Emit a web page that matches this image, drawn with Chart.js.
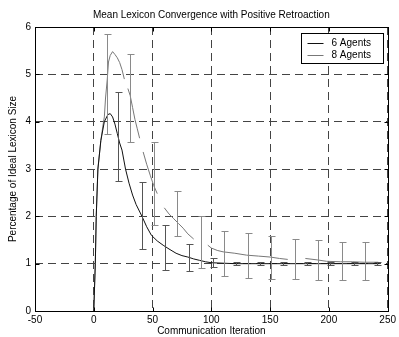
<!DOCTYPE html>
<html>
<head>
<meta charset="utf-8">
<title>Mean Lexicon Convergence</title>
<script src="https://cdn.jsdelivr.net/npm/chart.js@4.4.0/dist/chart.umd.min.js"></script>
<style>
  body { margin: 0; background: #fff; }
</style>
</head>
<body>
<canvas id="chart" width="399" height="337"></canvas>
<script>
// valori
var seriesNames = ['6 Agents', '8 Agents'];

// 6 agenti (linea nera)
var x6 = [0, 1.3, 2.1, 3.5, 6, 9, 12, 14, 16, 18, 20, 22, 24, 27, 30, 33, 36, 41, 45, 49, 54, 59, 64, 70, 75, 80, 85, 90, 95, 100, 110, 120, 140, 160, 180, 200, 220, 243];
var y6 = [0, 1.0, 2.0, 3.0, 3.6, 4.0, 4.15, 4.17, 4.1, 3.95, 3.75, 3.55, 3.4, 3.0, 2.7, 2.45, 2.25, 2.0, 1.78, 1.6, 1.48, 1.39, 1.31, 1.22, 1.17, 1.14, 1.1, 1.07, 1.04, 1.02, 1.01, 1.0, 1.0, 1.0, 1.0, 1.0, 1.0, 1.0];

// 8 agenti (linea grigia, spezzata)
var x8 = [0, 1.3, 2.1, 3.5, 6, 8, 9, 10, 11.5, 12.5, 14, 16, 18, 20, 22, 24, 26, 27.5, 29, 31, 33, 35, 37, 39, 40.5, 42, 45, 48, 51, 54, 57, 60, 64, 68, 72, 76, 80, 85, 91, 97, 100, 105, 110, 120, 130, 140, 150, 158, 165, 172, 180, 190, 198, 210, 220, 230, 242];
var y8 = [0, 1.0, 2.0, 3.0, 3.6, 3.95, 4.1, 4.5, 4.9, 5.26, 5.4, 5.48, 5.42, 5.35, 5.25, 5.1, 4.9, null, 4.7, 4.55, 4.3, 4.05, 3.85, 3.65, null, 3.36, 3.1, 2.87, 2.65, 2.48, null, 2.18, 2.05, 1.95, 1.85, 1.75, 1.63, 1.52, null, 1.39, 1.33, 1.28, 1.25, 1.22, 1.18, 1.16, 1.14, 1.11, 1.09, null, 1.11, 1.08, 1.05, 1.04, 1.04, 1.03, 1.03];

// barre d'errore
var errX6 = [21, 41, 61, 81, 101, 121, 141, 161, 181, 201, 221, 241];
var errLo6 = [2.74, 1.32, 0.86, 0.85, 0.92, 0.97, 0.97, 0.97, 0.97, 0.97, 0.97, 0.97];
var errHi6 = [4.63, 2.73, 1.81, 1.41, 1.11, 1.03, 1.03, 1.03, 1.03, 1.03, 1.03, 1.03];

var errX8 = [11, 31, 51, 71, 91, 111, 131, 151, 171, 191, 211, 231];
var errLo8 = [3.75, 3.57, 1.81, 1.58, 0.9, 0.75, 0.70, 0.67, 0.67, 0.66, 0.66, 0.66];
var errHi8 = [5.86, 5.44, 3.57, 2.54, 2.0, 1.69, 1.64, 1.58, 1.53, 1.50, 1.45, 1.45];

var xTicks = [-50, 0, 50, 100, 150, 200, 250];
var yTicks = [0, 1, 2, 3, 4, 5, 6];

function toPoints(xs, ys) {
  var pts = [];
  for (var i = 0; i < xs.length; i++) {
    pts.push({x: xs[i], y: ys[i]});
  }
  return pts;
}

Chart.defaults.font.family = "'Liberation Sans', Arial, sans-serif";
Chart.defaults.font.size = 10;
Chart.defaults.color = '#000';

// barre d'errore disegnate con le scale del grafico
var errorBars = {
  id: 'errorBars',
  afterDatasetsDraw: function(chart) {
    var ctx = chart.ctx;
    var xs = chart.scales.x, ys = chart.scales.y;
    ctx.save();
    chart.data.datasets.forEach(function(ds) {
      ctx.strokeStyle = ds.errColor;
      ctx.lineWidth = 1;
      for (var i = 0; i < ds.errX.length; i++) {
        var px = Math.round(xs.getPixelForValue(ds.errX[i])) + 0.5;
        var lo = Math.round(ys.getPixelForValue(ds.errLo[i])) + 0.5;
        var hi = Math.round(ys.getPixelForValue(ds.errHi[i])) + 0.5;
        ctx.beginPath();
        ctx.moveTo(px, lo); ctx.lineTo(px, hi);
        ctx.moveTo(px - 3, lo); ctx.lineTo(px + 4, lo);
        ctx.moveTo(px - 3, hi); ctx.lineTo(px + 4, hi);
        ctx.stroke();
      }
    });
    ctx.restore();
  }
};

// riquadro, tacche interne e legenda
var frame = {
  id: 'frame',
  afterDraw: function(chart) {
    var ctx = chart.ctx;
    var a = chart.chartArea;
    var xs = chart.scales.x, ys = chart.scales.y;
    var L = Math.round(a.left) + 0.5, R = Math.round(a.right) + 0.5;
    var T = Math.round(a.top) + 0.5, B = Math.round(a.bottom) + 0.5;
    ctx.save();
    ctx.strokeStyle = '#000';
    ctx.lineWidth = 1;
    ctx.strokeRect(L, T, R - L, B - T);
    ctx.beginPath();
    xTicks.forEach(function(v) {
      var p = Math.round(xs.getPixelForValue(v)) + 0.5;
      ctx.moveTo(p, B); ctx.lineTo(p, B - 4);
      ctx.moveTo(p, T); ctx.lineTo(p, T + 4);
    });
    yTicks.forEach(function(v) {
      var p = Math.round(ys.getPixelForValue(v)) + 0.5;
      ctx.moveTo(L, p); ctx.lineTo(L + 4, p);
      ctx.moveTo(R, p); ctx.lineTo(R - 4, p);
    });
    ctx.stroke();

    // legenda
    var bx = Math.round(a.right) - 87 + 0.5, by = Math.round(a.top) + 6 + 0.5;
    ctx.fillStyle = '#fff';
    ctx.fillRect(bx, by, 82, 30);
    ctx.strokeRect(bx, by, 82, 30);
    ctx.font = "10px 'Liberation Sans', Arial, sans-serif";
    ctx.textBaseline = 'middle';
    chart.data.datasets.forEach(function(ds, i) {
      var yy = Math.round(by + 9.5 + i * 11.5) + 0.5;
      ctx.strokeStyle = ds.borderColor;
      ctx.beginPath();
      ctx.moveTo(bx + 6, yy); ctx.lineTo(bx + 22, yy);
      ctx.stroke();
      ctx.fillStyle = '#000';
      ctx.fillText(ds.label, bx + 30, yy);
    });
    ctx.restore();
  }
};

var ctx = document.getElementById('chart');

var chart = new Chart(ctx, {
  type: 'line',
  data: {
    datasets: [{
      label: seriesNames[0],
      data: toPoints(x6, y6),
      borderColor: '#111',
      borderWidth: 1,
      pointRadius: 0,
      tension: 0,
      spanGaps: false,
      errX: errX6, errLo: errLo6, errHi: errHi6, errColor: '#555'
    }, {
      label: seriesNames[1],
      data: toPoints(x8, y8),
      borderColor: '#777',
      borderWidth: 1,
      pointRadius: 0,
      tension: 0,
      spanGaps: false,
      errX: errX8, errLo: errLo8, errHi: errHi8, errColor: '#8a8a8a'
    }]
  },
  options: {
    responsive: false,
    animation: false,
    events: [],
    layout: { autoPadding: false, padding: { left: 0, right: 7, top: 0, bottom: 0 } },
    plugins: {
      legend: { display: false },
      tooltip: { enabled: false },
      title: {
        display: true,
        fullSize: false,
        text: 'Mean Lexicon Convergence with Positive Retroaction',
        font: { size: 10, weight: 'normal', lineHeight: 1.2 },
        padding: { top: 9, bottom: 6 },
        color: '#000'
      }
    },
    scales: {
      x: {
        type: 'linear',
        min: -50, max: 250,
        afterFit: function(s) { s.height = 26; },
        afterBuildTicks: function(s) { s.ticks = xTicks.map(function(v) { return {value: v}; }); },
        ticks: { padding: 3, maxRotation: 0, autoSkip: false },
        grid: { color: '#444', lineWidth: 1, drawTicks: false },
        border: { display: false, dash: [8, 5] },
        title: {
          display: true,
          text: 'Communication Iteration',
          font: { size: 10, lineHeight: 1.2 },
          padding: { top: 0, bottom: 0 }
        }
      },
      y: {
        type: 'linear',
        min: 0, max: 6,
        afterFit: function(s) { s.width = 35; },
        afterBuildTicks: function(s) { s.ticks = yTicks.map(function(v) { return {value: v}; }); },
        ticks: { padding: 4 },
        grid: { color: '#444', lineWidth: 1, drawTicks: false },
        border: { display: false, dash: [8, 5] },
        title: {
          display: true,
          text: 'Percentage of Ideal Lexicon Size',
          font: { size: 10, lineHeight: 1.2 },
          padding: { top: 7, bottom: 0 }
        }
      }
    }
  },
  plugins: [errorBars, frame]
});
</script>
</body>
</html>
